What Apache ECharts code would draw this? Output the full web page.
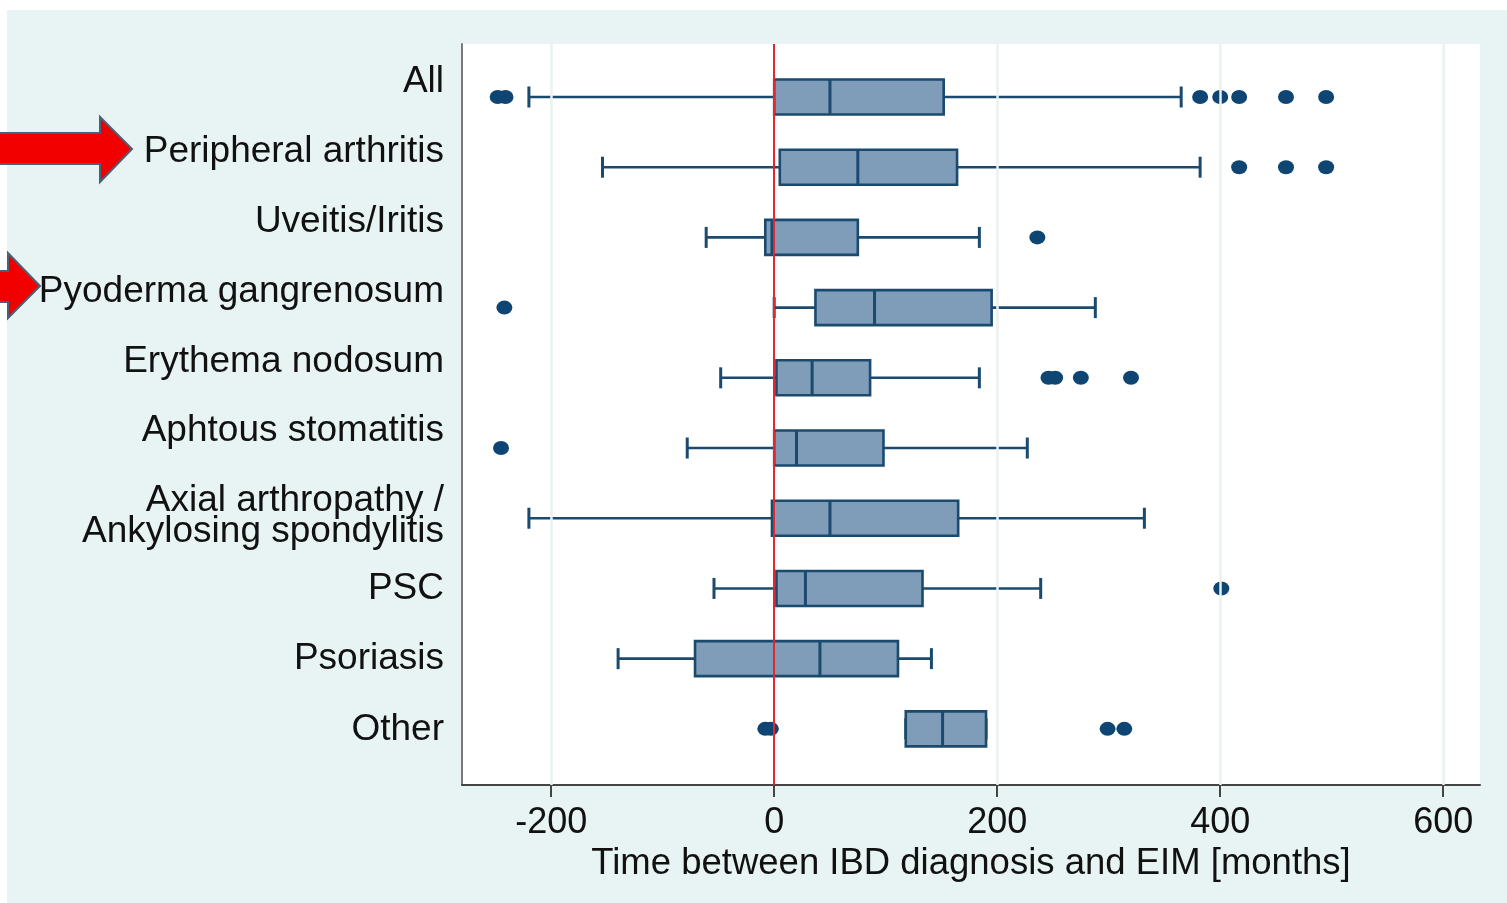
<!DOCTYPE html>
<html>
<head>
<meta charset="utf-8">
<script src="https://cdn.jsdelivr.net/npm/echarts@6/dist/echarts.min.js"></script>
<style>
html,body{margin:0;padding:0;background:#fff;width:1507px;height:903px;overflow:hidden;}
#panel{position:absolute;left:7px;top:10px;right:0;bottom:0;background:#e8f3f3;}
#chart{position:absolute;left:0;top:0;width:1507px;height:903px;}
</style>
</head>
<body>
<div id="panel"></div>
<div id="chart"></div>
<script>
// ---- data (months) ----
const categories = ["All", "Peripheral arthritis", "Uveitis/Iritis", "Pyoderma gangrenosum",
  "Erythema nodosum", "Aphtous stomatitis", "Axial arthropathy /\nAnkylosing spondylitis",
  "PSC", "Psoriasis", "Other"];
const whiskerLow  = [-220, -154, -61,   0, -48, -78, -220, -54, -140, 118];
const q1          = [   0,    5,  -8,  37,   2,   0,   -2,   2,  -71, 118];
const median      = [  50,   75,  -2,  90,  34,  20,   50,  28,   41, 151];
const q3          = [ 152,  164,  75, 195,  86,  98,  165, 133,  111, 190];
const whiskerHigh = [ 365,  382, 184, 288, 184, 227,  332, 239,  141, 190];
const outlierCat  = [0, 0, 0, 0, 0, 0, 0, 1, 1, 1, 2, 3, 4, 4, 4, 4, 5, 7, 9, 9, 9, 9];
const outlierVal  = [-248, -241, 382, 400, 417, 459, 495, 417, 459, 495, 236, -242,
                     246, 252, 275, 320, -245, 401, -8, -3, 299, 314];
const xTicks = [-200, 0, 200, 400, 600];
const gridValues = [-200, 200, 400, 600];
// label anchor rows as placed in the source figure (in row units)
const labelRows = [-0.22, 0.78, 1.78, 2.77, 3.77, 4.75, 5.97, 7.01, 8.0, 9.02];
const xTitle = "Time between IBD diagnosis and EIM [months]";

const boxData = categories.map((c, i) => [i, whiskerLow[i], q1[i], median[i], q3[i], whiskerHigh[i]]);
const outlierData = outlierVal.map((v, k) => [v, outlierCat[k]]);

const FONT = "'Liberation Sans', Arial, sans-serif";
const chart = echarts.init(document.getElementById('chart'), null, {renderer: 'canvas'});

const boxStroke = '#1b4a6f';
const boxFill = '#7f9cb8';

function renderBox(params, api) {
  const i = api.value(0);
  const pLow = api.coord([api.value(1), i]);
  const pQ1 = api.coord([api.value(2), i]);
  const pMed = api.coord([api.value(3), i]);
  const pQ3 = api.coord([api.value(4), i]);
  const pHigh = api.coord([api.value(5), i]);
  const y = pMed[1];
  const h = 17.5, cap = 10.5;
  const ls = {stroke: boxStroke, lineWidth: 2.6};
  return {
    type: 'group',
    children: [
      {type: 'line', shape: {x1: pLow[0], y1: y, x2: pQ1[0], y2: y}, style: ls},
      {type: 'line', shape: {x1: pQ3[0], y1: y, x2: pHigh[0], y2: y}, style: ls},
      {type: 'line', shape: {x1: pLow[0], y1: y - cap, x2: pLow[0], y2: y + cap}, style: {stroke: boxStroke, lineWidth: 3}},
      {type: 'line', shape: {x1: pHigh[0], y1: y - cap, x2: pHigh[0], y2: y + cap}, style: {stroke: boxStroke, lineWidth: 3}},
      {type: 'rect', shape: {x: pQ1[0], y: y - h, width: pQ3[0] - pQ1[0], height: 2 * h},
        style: {fill: boxFill, stroke: boxStroke, lineWidth: 2.6}},
      {type: 'line', shape: {x1: pMed[0], y1: y - h, x2: pMed[0], y2: y + h},
        style: {stroke: boxStroke, lineWidth: 3}}
    ]
  };
}

function labelFor(v) {
  let best = -1, d = 1e9;
  labelRows.forEach((r, i) => { const dd = Math.abs(r - v); if (dd < d) { d = dd; best = i; } });
  return d < 0.05 ? categories[best] : '';
}

const option = {
  animation: false,
  backgroundColor: 'transparent',
  textStyle: {fontFamily: FONT},
  grid: {left: 462, top: 44, right: 27, bottom: 118, show: true, backgroundColor: '#ffffff', borderWidth: 0},
  xAxis: {
    type: 'value', min: -280, max: 633,
    axisLine: {show: true, onZero: false, lineStyle: {color: '#454545', width: 2}},
    axisTick: {show: true, customValues: xTicks, length: 12, lineStyle: {color: '#454545', width: 2}},
    axisLabel: {customValues: xTicks, margin: 20, fontSize: 36, color: '#111', fontFamily: FONT},
    splitLine: {show: false},
    name: xTitle, nameLocation: 'middle', nameGap: 50,
    nameTextStyle: {fontSize: 36.5, color: '#111', fontFamily: FONT}
  },
  yAxis: {
    type: 'value', inverse: true, min: -0.755, max: 9.8,
    axisLine: {show: true, onZero: false, lineStyle: {color: '#7a7a7a', width: 2}},
    axisTick: {show: false},
    splitLine: {show: false},
    axisLabel: {
      customValues: labelRows, margin: 18, fontSize: 37, lineHeight: 31, color: '#111', fontFamily: FONT,
      formatter: v => labelFor(v)
    }
  },
  graphic: [
    {type: 'polygon', z: 100,
      shape: {points: [[-5, 133], [100, 133], [100, 117], [132, 149], [100, 182], [100, 164], [-5, 164]]},
      style: {fill: '#f20000', stroke: '#4a6078', lineWidth: 2}},
    {type: 'polygon', z: 100,
      shape: {points: [[-5, 271], [8, 271], [8, 253], [40, 286], [8, 318], [8, 302], [-5, 302]]},
      style: {fill: '#f20000', stroke: '#4a6078', lineWidth: 2}}
  ],
  series: [
    {
      type: 'scatter', data: [], z: 1, silent: true,
      markLine: {
        silent: true, symbol: ['none', 'none'], label: {show: false},
        lineStyle: {color: '#eaf1f1', width: 2.5, type: 'solid'},
        data: gridValues.map(v => ({xAxis: v}))
      }
    },
    {
      type: 'custom', z: 2, renderItem: renderBox, data: boxData,
      encode: {x: [1, 2, 3, 4, 5], y: 0}, silent: true
    },
    {
      type: 'scatter', z: 3, data: outlierData, symbol: 'circle', symbolSize: [16, 14],
      itemStyle: {color: '#0e4573', opacity: 1}, silent: true,
      markLine: {
        silent: true, symbol: ['none', 'none'], label: {show: false},
        lineStyle: {color: '#e5262f', width: 2, type: 'solid'},
        data: [{xAxis: 0}]
      }
    }
  ]
};
chart.setOption(option);
</script>
</body>
</html>
